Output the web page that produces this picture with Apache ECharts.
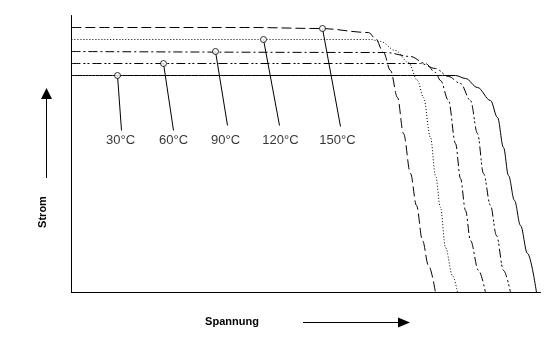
<!DOCTYPE html>
<html>
<head>
<meta charset="utf-8">
<script src="https://cdn.jsdelivr.net/npm/echarts@6/dist/echarts.min.js"></script>
<style>
html,body{margin:0;padding:0;background:#fff;}
#main{width:551px;height:354px;}
</style>
</head>
<body>
<div id="main"></div>
<script>
// Kennlinien (Spannung, Strom) in willkürlichen Einheiten
var temps = ['30°C', '60°C', '90°C', '120°C', '150°C'];

var curve30 = [[0,217],[384,217],[394,214],[406,205],[419,192],[426,175],[432,145],[437,117],[443,92],[449,67],[456,39],[465,0]];
var curve60 = [[0,229],[349,229],[364,224],[377,216],[389,209],[399,192],[406,159],[412,119],[419,87],[425,57],[432,22],[439,0]];
var curve90 = [[0,241],[314,240],[339,236],[354,229],[364,220],[369,212],[377,192],[384,149],[389,114],[394,82],[399,52],[407,22],[414,0]];
var curve120 = [[0,253],[299,253],[309,251],[324,242],[337,230],[346,212],[352,195],[359,155],[364,117],[369,85],[374,45],[381,17],[386,0]];
var curve150 = [[0,265],[179,265],[249,264],[297,260],[304,254],[312,240],[319,222],[326,195],[332,159],[339,119],[345,87],[351,52],[357,27],[364,0]];

// Markierungspunkte, Ende der Hinweislinie, Beschriftung
var markPts = [[46,217],[92,229],[144,241],[192,253],[251,264]];
var leaderEnds = [[50,162],[102,162],[156,167],[208,167],[269,166]];
var labelPts = [[49,152],[102,152],[154,152],[209,152],[266,152]];

var curves = [curve30, curve60, curve90, curve120, curve150];
var dashes = ['solid', [9,3,2,2,2,3], [9,3,2,3], [1,2], [10,4]];

var series = [];
for (var i = 0; i < curves.length; i++) {
  series.push({
    name: temps[i],
    type: 'line',
    data: curves[i],
    smooth: 0.35,
    smoothMonotone: 'x',
    symbol: 'none',
    lineStyle: {color: '#000', width: 1, type: dashes[i]},
    z: 2
  });
  series.push({
    type: 'line',
    data: [markPts[i], leaderEnds[i]],
    symbol: 'none',
    lineStyle: {color: '#000', width: 1},
    z: 3
  });
}
series.push({
  type: 'scatter',
  data: markPts,
  symbol: 'circle',
  symbolSize: 6,
  itemStyle: {color: '#fff', borderColor: '#000', borderWidth: 1},
  z: 5
});
series.push({
  type: 'scatter',
  data: labelPts.map(function (p, i) { return {value: p, name: temps[i]}; }),
  symbolSize: 0,
  label: {
    show: true,
    position: 'inside',
    formatter: '{b}',
    color: '#000',
    fontFamily: 'Liberation Sans, Arial, sans-serif',
    fontSize: 13
  },
  z: 5
});

var chart = echarts.init(document.getElementById('main'));
chart.setOption({
  animation: false,
  backgroundColor: '#fff',
  grid: {left: 71.5, top: 15.5, right: 10.5, bottom: 61.5},
  xAxis: {
    type: 'value', min: 0, max: 469,
    axisLine: {show: true, lineStyle: {color: '#000', width: 1}},
    axisTick: {show: false}, axisLabel: {show: false}, splitLine: {show: false}
  },
  yAxis: {
    type: 'value', min: 0, max: 277,
    axisLine: {show: true, lineStyle: {color: '#000', width: 1}},
    axisTick: {show: false}, axisLabel: {show: false}, splitLine: {show: false}
  },
  graphic: [
    {type: 'text', x: 43, y: 212, rotation: Math.PI / 2,
     style: {text: 'Strom', font: 'bold 11px Liberation Sans, Arial', fill: '#000', align: 'center', verticalAlign: 'middle'}},
    {type: 'line', shape: {x1: 46.5, y1: 178, x2: 46.5, y2: 99}, style: {stroke: '#000', lineWidth: 1}},
    {type: 'polygon', shape: {points: [[46.5, 88], [41, 99], [52, 99]]}, style: {fill: '#000'}},
    {type: 'text', x: 232, y: 322,
     style: {text: 'Spannung', font: 'bold 11px Liberation Sans, Arial', fill: '#000', align: 'center', verticalAlign: 'middle'}},
    {type: 'line', shape: {x1: 303, y1: 322.5, x2: 399, y2: 322.5}, style: {stroke: '#000', lineWidth: 1}},
    {type: 'polygon', shape: {points: [[410, 322.5], [398, 317.5], [398, 327.5]]}, style: {fill: '#000'}}
  ],
  series: series
});
</script>
</body>
</html>
